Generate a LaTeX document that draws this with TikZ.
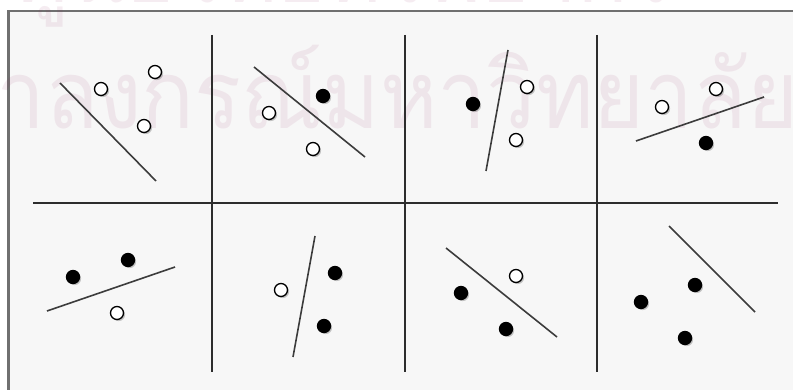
\documentclass[tikz,border=0pt]{standalone}
\usepackage{fontspec}
\newfontfamily\thaifont[Script=Thai]{Loma}
\definecolor{framegray}{RGB}{112,112,112}
\definecolor{panelbg}{RGB}{247,247,247}
\definecolor{sepcol}{RGB}{45,45,45}
\definecolor{linecol}{RGB}{60,60,60}
\definecolor{wmark}{RGB}{150,40,100}
\tikzset{
  sep/.style={draw=sepcol, line width=1.6pt},
  divider/.style={draw=linecol, line width=1.6pt},
  dotbase/.style={circle, minimum size=13pt, inner sep=0pt, outer sep=0pt},
  opendot/.style={dotbase, draw=black, fill=white, line width=1.3pt},
  fulldot/.style={dotbase, draw=black, fill=black, line width=1.3pt},
  dshadow/.style={dotbase, fill=black, opacity=0.22},
  wm/.style={text=wmark, text opacity=0.085, inner sep=0pt, font=\thaifont\fontsize{95}{95}\selectfont},
}
\newcommand{\opdot}[3]{%
  \node[dshadow] (#1s) at (#2+1.6,#3+1.6) {};
  \node[opendot] (#1) at (#2,#3) {};}
\newcommand{\fldot}[3]{%
  \node[dshadow] (#1s) at (#2+1.6,#3+1.6) {};
  \node[fulldot] (#1) at (#2,#3) {};}
\begin{document}
\begin{tikzpicture}[x=1pt,y=-1pt]
\useasboundingbox (0,0) rectangle (793,390);
\fill[white] (0,0) rectangle (793,390);
% frame
\fill[panelbg] (8.5,11) rectangle (800,400);
\draw[framegray, line width=2.6pt] (8.5,400) -- (8.5,11) -- (800,11);
% watermark
\begin{scope}
\clip (0,0) rectangle (793,390);
\node[wm, anchor=base] (wm1) at (345,3) {\scalebox{0.88}[1]{ศูนย์วิทยทรัพยากร}};
\node[wm, anchor=base] (wm2) at (342,129) {\scalebox{0.92}[1]{จุฬาลงกรณ์มหาวิทยาลัย}};
\end{scope}
% separators
\coordinate (h1) at (33,203);
\coordinate (h2) at (778,203);
\draw[sep] (h1) -- (h2);
\foreach \x/\n in {212/a,405/b,597/c} {
  \coordinate (v\n1) at (\x,35);
  \coordinate (v\n2) at (\x,372);
  \draw[sep] (v\n1) -- (v\n2);
}
% panel 1
\coordinate (l1a) at (60,83); \coordinate (l1b) at (156,181);
\draw[divider] (l1a) -- (l1b);
\opdot{p1a}{101}{89} \opdot{p1b}{155}{72} \opdot{p1c}{144}{126}
% panel 2
\coordinate (l2a) at (254,67); \coordinate (l2b) at (365,157);
\draw[divider] (l2a) -- (l2b);
\fldot{p2a}{323}{96} \opdot{p2b}{269}{113} \opdot{p2c}{313}{149}
% panel 3
\coordinate (l3a) at (508,50); \coordinate (l3b) at (486,171);
\draw[divider] (l3a) -- (l3b);
\fldot{p3a}{473}{104} \opdot{p3b}{527}{87} \opdot{p3c}{516}{140}
% panel 4
\coordinate (l4a) at (636,141); \coordinate (l4b) at (764,97);
\draw[divider] (l4a) -- (l4b);
\opdot{p4a}{662}{107} \opdot{p4b}{716}{89} \fldot{p4c}{706}{143}
% panel 5
\coordinate (l5a) at (47,311); \coordinate (l5b) at (175,267);
\draw[divider] (l5a) -- (l5b);
\fldot{p5a}{73}{277} \fldot{p5b}{128}{260} \opdot{p5c}{117}{313}
% panel 6
\coordinate (l6a) at (315,236); \coordinate (l6b) at (293,357);
\draw[divider] (l6a) -- (l6b);
\opdot{p6a}{281}{290} \fldot{p6b}{335}{273} \fldot{p6c}{324}{326}
% panel 7
\coordinate (l7a) at (446,248); \coordinate (l7b) at (557,337);
\draw[divider] (l7a) -- (l7b);
\opdot{p7a}{516}{276} \fldot{p7b}{461}{293} \fldot{p7c}{506}{329}
% panel 8
\coordinate (l8a) at (669,226); \coordinate (l8b) at (755,312);
\draw[divider] (l8a) -- (l8b);
\fldot{p8a}{695}{285} \fldot{p8b}{641}{302} \fldot{p8c}{685}{338}
\end{tikzpicture}
\end{document}
